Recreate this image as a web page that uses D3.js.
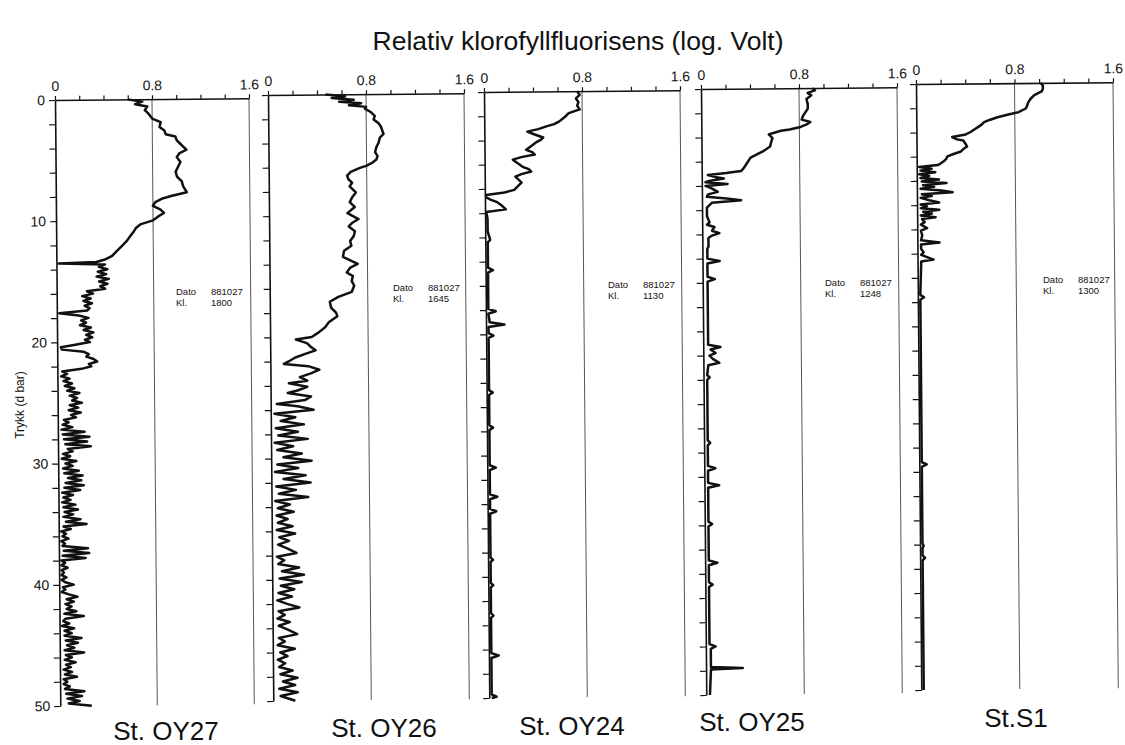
<!DOCTYPE html>
<html>
<head>
<meta charset="utf-8">
<script src="https://cdn.jsdelivr.net/npm/d3@7"></script>
<style>
  html, body { margin: 0; padding: 0; background: #fff; }
  svg { display: block; font-family: "Liberation Sans", Arial, Helvetica, sans-serif; }
</style>
</head>
<body>
<script>
// ---------------- data ----------------
const TITLE = "Relativ klorofyllfluorisens (log. Volt)";
const Y_LABEL = "Trykk (d bar)";
const stations = ["St. OY27", "St. OY26", "St. OY24", "St. OY25", "St.S1"];
const dates = ["881027", "881027", "881027", "881027", "881027"];
const times = ["1800", "1645", "1130", "1248", "1300"];
const xTicks = [0, 0.2, 0.4, 0.6, 0.8, 1.0, 1.2, 1.4, 1.6];
const xTickLabels = [0, 0.8, 1.6];
const yTicks = [0,2,4,6,8,10,12,14,16,18,20,22,24,26,28,30,32,34,36,38,40,42,44,46,48,50];
const yTickLabels = [0, 10, 20, 30, 40, 50];

// [depth (dbar), fluorescence]
const oy27 = [[0,0.60],[0.2,0.72],[0.4,0.66],[0.6,0.76],[0.9,0.74],[1.2,0.77],[1.6,0.80],[1.9,0.87],[2.3,0.86],[2.6,0.90],[2.9,0.91],[3.1,0.99],[3.4,1.00],[3.7,1.03],[4.0,1.06],[4.2,1.08],[4.5,1.02],[4.8,1.00],[5.2,1.03],[5.6,1.01],[6.0,0.99],[6.4,1.00],[6.8,1.04],[7.2,1.05],[7.7,1.08],[8.0,0.95],[8.2,0.88],[8.5,0.82],[8.8,0.80],[9.1,0.86],[9.4,0.89],[9.7,0.84],[10.0,0.80],[10.3,0.70],[10.6,0.66],[10.9,0.64],[11.3,0.61],[11.7,0.58],[12.1,0.54],[12.5,0.50],[12.9,0.46],[13.2,0.40],[13.4,0.33],[13.5,0.02],[13.6,0.40],
[13.8,0.35],[14.0,0.42],[14.2,0.34],[14.4,0.41],[14.6,0.33],[14.8,0.43],[15.0,0.35],[15.2,0.42],[15.4,0.36],[15.6,0.40],[15.8,0.25],[16.0,0.30],[16.2,0.21],[16.4,0.28],[16.6,0.22],[16.8,0.29],[17.0,0.23],[17.2,0.27],[17.4,0.25],[17.6,0.02],[17.8,0.18],[18.0,0.26],[18.2,0.20],[18.4,0.24],[18.6,0.19],[18.8,0.28],[19.0,0.22],[19.2,0.30],[19.4,0.24],[19.6,0.29],[19.8,0.23],[20.0,0.27],[20.2,0.15],[20.4,0.03],[20.6,0.04],[20.8,0.22],[21.0,0.26],[21.2,0.24],[21.4,0.30],[21.6,0.33],[21.8,0.26],[22.0,0.28],[22.2,0.20],[22.4,0.04],[22.6,0.08],[22.8,0.03],[23.0,0.10],[23.2,0.05],[23.4,0.12],[23.6,0.06],[23.8,0.14],[24.0,0.08],[24.2,0.18],[24.4,0.10],[24.6,0.16],[24.8,0.12],[25.0,0.20],[25.2,0.10],[25.4,0.17],[25.6,0.09],[25.8,0.19],[26.0,0.11],[26.2,0.15],[26.4,0.05],[26.6,0.09],[26.8,0.04],[27.0,0.12],[27.2,0.03],[27.4,0.22],[27.6,0.04],[27.8,0.26],[28.0,0.05],[28.2,0.24],[28.4,0.06],[28.6,0.27],[28.8,0.08],[29.0,0.12],[29.2,0.04],[29.4,0.10],[29.6,0.03],[29.8,0.15],[30.0,0.06],[30.2,0.12],[30.4,0.04],[30.6,0.17],[30.8,0.05],[31.0,0.20],[31.2,0.08],[31.4,0.19],[31.6,0.06],[31.8,0.21],[32.0,0.05],[32.2,0.18],[32.4,0.03],[32.6,0.12],[32.8,0.04],[33.0,0.10],[33.2,0.03],[33.4,0.14],[33.6,0.04],[33.8,0.16],[34.0,0.05],[34.2,0.12],[34.4,0.04],[34.6,0.18],[34.8,0.06],[35.0,0.23],[35.2,0.04],[35.4,0.10],[35.6,0.02],[35.8,0.06],[36.0,0.03],[36.2,0.08],[36.4,0.02],[36.6,0.05],[36.8,0.03],[37.0,0.24],[37.2,0.04],[37.4,0.25],[37.6,0.03],[37.8,0.22],[38.0,0.02],[38.2,0.05],[38.4,0.02],[38.6,0.07],[38.8,0.02],[39.0,0.04],[39.2,0.02],[39.4,0.06],[39.6,0.02],[39.8,0.05],[40.0,0.12],[40.2,0.03],[40.4,0.05],[40.6,0.02],[40.8,0.08],[41.0,0.15],[41.2,0.06],[41.4,0.12],[41.6,0.05],[41.8,0.10],[42.0,0.06],[42.2,0.14],[42.4,0.04],[42.6,0.20],[42.8,0.05],[43.0,0.03],[43.2,0.08],[43.4,0.02],[43.6,0.12],[43.8,0.04],[44.0,0.10],[44.2,0.04],[44.4,0.18],[44.6,0.05],[44.8,0.15],[45.0,0.06],[45.2,0.12],[45.4,0.04],[45.6,0.20],[45.8,0.05],[46.0,0.10],[46.2,0.04],[46.4,0.13],[46.6,0.05],[46.8,0.09],[47.0,0.03],[47.2,0.10],[47.4,0.04],[47.6,0.14],[47.8,0.03],[48.0,0.06],[48.2,0.03],[48.4,0.08],[48.6,0.04],[48.8,0.20],[49.0,0.05],[49.2,0.18],[49.4,0.06],[49.6,0.16],[49.8,0.07],[50.0,0.26]];

const oy26 = [[0,0.47],[0.15,0.63],[0.3,0.52],[0.45,0.70],[0.6,0.58],[0.75,0.76],[0.9,0.66],[1.05,0.80],[1.2,0.79],[1.5,0.84],[1.8,0.87],[2.1,0.86],[2.4,0.90],[2.7,0.92],[3.0,0.93],[3.3,0.94],[3.6,0.91],[4.0,0.90],[4.4,0.88],[4.8,0.87],[5.1,0.89],[5.4,0.88],[5.7,0.84],[5.9,0.80],[6.1,0.74],[6.4,0.67],[6.7,0.64],[7.0,0.65],[7.3,0.68],[7.6,0.66],[8.1,0.71],[8.5,0.68],[8.9,0.66],[9.3,0.70],[9.8,0.64],[10.3,0.73],[10.6,0.68],[10.9,0.65],[11.3,0.70],[11.7,0.69],[12.1,0.66],[12.5,0.67],[12.9,0.61],[13.4,0.60],[13.7,0.66],[14.0,0.72],[14.3,0.66],[14.7,0.63],[15.0,0.68],[15.4,0.67],[15.8,0.69],[16.3,0.67],[16.7,0.56],[17.1,0.49],[17.6,0.50],[18.0,0.54],[18.3,0.55],[18.8,0.48],[19.2,0.45],[19.6,0.40],[20.0,0.34],
[20.2,0.21],[20.5,0.30],[20.8,0.33],[21.1,0.37],[21.4,0.28],[21.7,0.20],[22.0,0.15],[22.2,0.11],[22.4,0.31],[22.7,0.40],[23.0,0.33],[23.3,0.24],[23.6,0.30],[23.8,0.15],[24.1,0.30],[24.4,0.22],[24.6,0.14],[24.9,0.33],[25.2,0.28],[25.5,0.05],[25.7,0.22],[26.0,0.35],[26.3,0.03],[26.6,0.20],[26.9,0.08],[27.2,0.27],[27.5,0.04],[27.8,0.22],[28.1,0.06],[28.4,0.30],[28.7,0.03],[29.0,0.18],[29.3,0.05],[29.6,0.25],[29.9,0.10],[30.2,0.33],[30.5,0.05],[30.8,0.22],[31.1,0.03],[31.4,0.28],[31.7,0.10],[32.0,0.32],[32.3,0.04],[32.6,0.20],[32.9,0.06],[33.2,0.30],[33.5,0.03],[33.8,0.15],[34.1,0.05],[34.4,0.18],[34.7,0.04],[35.0,0.13],[35.3,0.05],[35.6,0.17],[35.9,0.04],[36.2,0.19],[36.5,0.06],[36.8,0.14],[37.1,0.05],[37.4,0.12],[37.8,0.20],[38.1,0.04],[38.4,0.10],[38.7,0.05],[39.0,0.22],[39.3,0.08],[39.6,0.26],[39.9,0.06],[40.2,0.24],[40.5,0.07],[40.8,0.18],[41.1,0.05],[41.4,0.16],[41.7,0.04],[42.0,0.12],[42.3,0.22],[42.6,0.05],[42.9,0.10],[43.2,0.04],[43.5,0.14],[43.8,0.05],[44.1,0.12],[44.5,0.20],[44.8,0.05],[45.1,0.10],[45.4,0.04],[45.7,0.18],[46.0,0.06],[46.3,0.12],[46.6,0.04],[46.9,0.10],[47.2,0.05],[47.5,0.16],[47.8,0.06],[48.1,0.20],[48.4,0.08],[48.7,0.18],[49.0,0.05],[49.3,0.20],[49.6,0.06],[50.0,0.18]];

const oy24 = [[0,0.76],[0.3,0.78],[0.6,0.75],[0.9,0.77],[1.2,0.76],[1.5,0.78],[1.8,0.69],[2.1,0.66],[2.5,0.61],[2.7,0.57],[2.9,0.50],[3.1,0.44],[3.3,0.35],[3.5,0.40],[3.8,0.48],[4.0,0.46],[4.2,0.42],[4.5,0.38],[4.8,0.34],[5.0,0.39],[5.2,0.41],[5.4,0.30],[5.6,0.23],[5.9,0.27],[6.2,0.31],[6.4,0.36],[6.6,0.38],[6.8,0.30],[7.0,0.25],[7.3,0.28],[7.5,0.30],[7.8,0.27],[8.1,0.24],[8.3,0.16],[8.5,0.01],[8.7,0.01],[8.9,0.05],[9.1,0.10],[9.4,0.14],[9.7,0.17],[9.9,0.01],[10.5,0.02],[11.5,0.02],[12.2,0.04],[12.4,0.02],[14.5,0.02],[14.7,0.06],[14.9,0.02],[17.9,0.02],[18.1,0.08],[18.3,0.02],[19.0,0.03],[19.2,0.15],[19.4,0.02],[19.9,0.02],[20.1,0.06],[20.3,0.02],[24.6,0.02],[24.8,0.05],[25.0,0.02],[27.5,0.02],[27.7,0.05],[27.9,0.02],[30.8,0.02],[31.0,0.07],[31.2,0.02],[33.2,0.02],[33.4,0.08],[33.6,0.02],[34.4,0.02],[34.6,0.07],[34.8,0.02],[38.4,0.02],[38.6,0.04],[38.8,0.02],[40.5,0.02],[40.7,0.04],[40.9,0.02],[43.0,0.02],[43.2,0.04],[43.4,0.02],[46.3,0.02],[46.5,0.08],[46.7,0.02],[49.7,0.02],[49.9,0.06],[50,0.02]];

const oy25 = [[0,0.91],[0.2,0.93],[0.4,0.87],[0.6,0.90],[0.9,0.86],[1.3,0.87],[1.7,0.87],[2.0,0.85],[2.3,0.83],[2.6,0.82],[2.8,0.89],[3.0,0.86],[3.2,0.81],[3.4,0.72],[3.5,0.65],[3.7,0.58],[3.8,0.55],[4.1,0.58],[4.4,0.57],[4.8,0.56],[5.2,0.50],[5.5,0.44],[5.7,0.40],[6.0,0.38],[6.3,0.36],[6.6,0.34],[6.8,0.32],[6.95,0.20],[7.1,0.05],[7.3,0.12],[7.4,0.18],[7.6,0.06],[7.7,0.03],[7.85,0.21],[8.0,0.03],[8.2,0.08],[8.5,0.13],[8.7,0.05],[8.9,0.04],[9.05,0.20],[9.2,0.32],[9.4,0.08],[9.8,0.04],[10.5,0.04],[11.0,0.06],[11.2,0.04],[11.4,0.10],[11.7,0.08],[11.9,0.14],[12.1,0.08],[12.3,0.05],[13.0,0.05],[13.2,0.04],[14.0,0.04],[14.2,0.14],[14.4,0.04],[15.5,0.04],[15.7,0.10],[15.9,0.04],[21.1,0.04],[21.3,0.14],[21.5,0.06],[21.8,0.10],[22.0,0.05],[22.3,0.08],[22.6,0.13],[22.8,0.04],[23.6,0.03],[23.8,0.05],[24.0,0.03],[29.0,0.03],[29.2,0.05],[29.4,0.03],[31.1,0.03],[31.3,0.09],[31.5,0.03],[32.5,0.03],[32.7,0.12],[32.9,0.03],[35.7,0.03],[35.9,0.06],[36.1,0.03],[38.9,0.03],[39.1,0.10],[39.3,0.03],[40.7,0.03],[40.9,0.06],[41.1,0.03],[45.8,0.03],[46.0,0.08],[46.2,0.04],[47.7,0.04],[47.8,0.30],[47.9,0.04],[50,0.03]];

const s1 = [[0,1.01],[0.2,1.03],[0.5,1.03],[0.7,1.02],[1.0,0.96],[1.3,0.93],[1.6,0.91],[1.9,0.90],[2.1,0.89],[2.4,0.83],[2.6,0.74],[2.8,0.66],[3.0,0.60],[3.2,0.55],[3.4,0.53],[3.6,0.50],[3.8,0.47],[4.0,0.44],[4.2,0.40],[4.4,0.29],[4.6,0.33],[4.7,0.38],[5.0,0.40],[5.2,0.41],[5.4,0.38],[5.6,0.36],[5.8,0.30],[6.0,0.25],[6.2,0.24],[6.4,0.22],[6.6,0.19],[6.7,0.17],[6.85,0.02],[7.0,0.12],[7.15,0.03],[7.3,0.15],[7.45,0.02],[7.6,0.10],[7.75,0.03],[7.9,0.18],[8.05,0.04],[8.2,0.24],[8.35,0.05],[8.5,0.14],[8.65,0.03],[8.8,0.20],[8.95,0.29],[9.1,0.04],[9.25,0.12],[9.4,0.03],[9.6,0.10],[9.8,0.18],[9.95,0.03],[10.1,0.08],[10.25,0.03],[10.4,0.18],[10.55,0.05],[10.7,0.12],[10.85,0.03],[11.0,0.15],[11.15,0.04],[11.4,0.06],[11.6,0.03],[11.9,0.08],[12.1,0.03],[12.5,0.04],[12.9,0.03],[13.1,0.18],[13.25,0.03],[13.6,0.03],[13.9,0.05],[14.1,0.03],[14.5,0.13],[14.65,0.03],[17.4,0.02],[17.6,0.05],[17.8,0.02],[31.2,0.02],[31.4,0.06],[31.6,0.02],[37.9,0.02],[38.1,0.03],[38.3,0.02],[38.9,0.02],[39.1,0.04],[39.3,0.02],[50,0.02]];

const profiles = [oy27, oy26, oy24, oy25, s1];

// ---------------- layout ----------------
const W = 1125, H = 745;
const layout = [
  { x0: 55,  y0: 100, w: 194, lx: 166,  ly: 740, ax: 176,  ay: 295 },
  { x0: 268, y0: 95,  w: 196, lx: 384,  ly: 737, ax: 393,  ay: 291 },
  { x0: 484, y0: 92,  w: 196, lx: 572,  ly: 735, ax: 608,  ay: 288 },
  { x0: 701, y0: 89,  w: 196, lx: 752,  ly: 731, ax: 825,  ay: 286 },
  { x0: 916, y0: 84,  w: 197, lx: 1016, ly: 727, ax: 1043, ay: 283 }
];
const PH = 606, ROT = -0.5, INK = "#111";

const svg = d3.select("body").append("svg").attr("width", W).attr("height", H);
svg.append("rect").attr("width", W).attr("height", H).attr("fill", "#fff");

svg.append("text").attr("x", 578).attr("y", 50).attr("text-anchor", "middle")
  .attr("font-size", 26.5).attr("fill", INK).text(TITLE);

svg.append("text").attr("transform", "translate(24,405) rotate(-90)")
  .attr("text-anchor", "middle").attr("font-size", 12).attr("fill", INK).text(Y_LABEL);

profiles.forEach((data, i) => {
  const L = layout[i];
  const x = d3.scaleLinear().domain([0, 1.6]).range([0, L.w]);
  const y = d3.scaleLinear().domain([0, 50]).range([0, PH]);
  const g = svg.append("g").attr("transform", `translate(${L.x0},${L.y0}) rotate(${ROT})`);

  // vertical reference lines at 0.8 and 1.6
  g.selectAll("line.ref").data([0.8, 1.6]).join("line").attr("class", "ref")
    .attr("x1", d => x(d)).attr("x2", d => x(d)).attr("y1", 0).attr("y2", y(50))
    .attr("stroke", "#555").attr("stroke-width", 1);

  // top axis
  const ax = g.append("g").call(
    d3.axisTop(x).tickValues(xTicks).tickSize(4).tickSizeOuter(0).tickPadding(5)
      .tickFormat(d => xTickLabels.includes(d) ? (d === 0 ? "0" : d.toFixed(1)) : ""));
  ax.select(".domain").attr("stroke", INK).attr("stroke-width", 1.6);
  ax.selectAll(".tick line").attr("stroke", INK).attr("stroke-width", 1.2);
  ax.selectAll(".tick text").attr("font-size", 14).attr("fill", INK)
    .attr("font-family", '"Liberation Sans", Arial, sans-serif');

  // left axis
  const ay = g.append("g").call(
    d3.axisLeft(y).tickValues(yTicks).tickSize(6).tickSizeOuter(0).tickPadding(4)
      .tickFormat(d => (i === 0 && yTickLabels.includes(d)) ? String(d) : ""));
  ay.select(".domain").attr("stroke", INK).attr("stroke-width", 1.6);
  ay.selectAll(".tick line").attr("stroke", INK).attr("stroke-width", 1.2);
  ay.selectAll(".tick text").attr("font-size", 14).attr("fill", INK)
    .attr("font-family", '"Liberation Sans", Arial, sans-serif');

  // profile
  g.append("path").datum(data)
    .attr("d", d3.line().x(d => x(d[1])).y(d => y(d[0])))
    .attr("fill", "none").attr("stroke", INK).attr("stroke-width", 2.5)
    .attr("stroke-linejoin", "round");

  // annotation
  const an = svg.append("g").attr("font-size", 9.5).attr("fill", INK);
  an.append("text").attr("x", L.ax).attr("y", L.ay).text("Dato");
  an.append("text").attr("x", L.ax + 35).attr("y", L.ay).text(dates[i]);
  an.append("text").attr("x", L.ax).attr("y", L.ay + 11).text("Kl.");
  an.append("text").attr("x", L.ax + 35).attr("y", L.ay + 11).text(times[i]);

  // station label
  svg.append("text").attr("x", L.lx).attr("y", L.ly).attr("text-anchor", "middle")
    .attr("font-size", 26).attr("fill", INK).text(stations[i]);
});
</script>
</body>
</html>
